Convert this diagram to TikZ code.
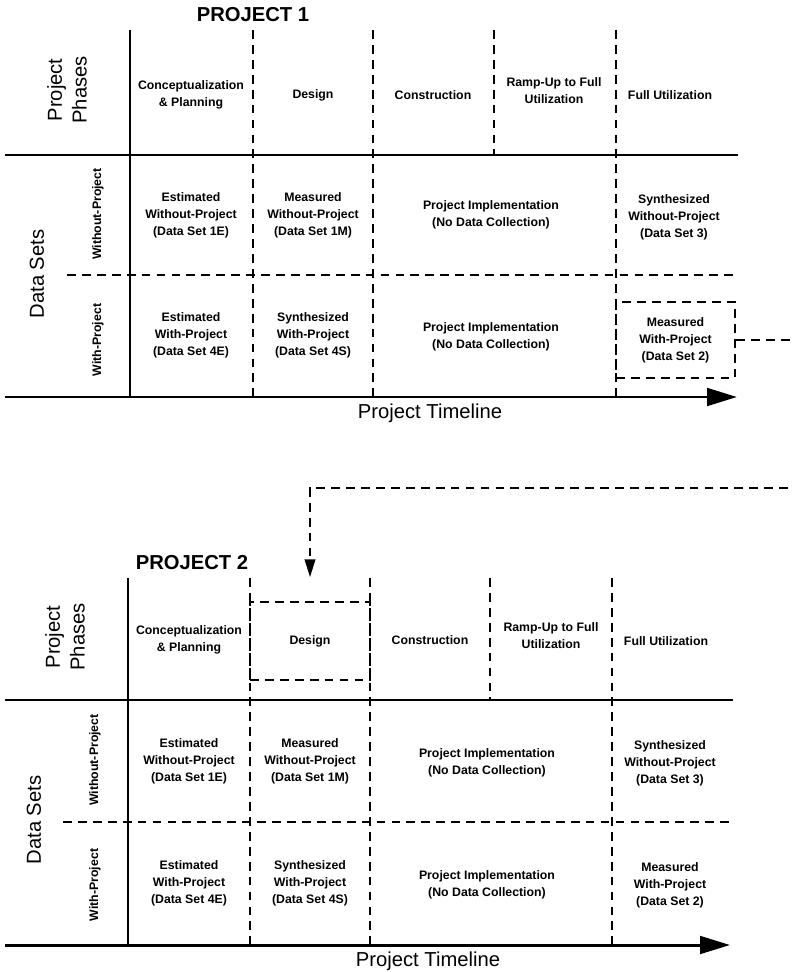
\documentclass[tikz,border=0pt]{standalone}
\usepackage{fontspec}
\setmainfont{Liberation Sans}
\usetikzlibrary{arrows.meta}
\tikzstyle{cell} = [align=center, inner sep=1pt, font=\fontsize{7}{9.6}\selectfont\bfseries]
\tikzstyle{rowlabel} = [rotate=90, inner sep=1pt, font=\fontsize{7}{9}\selectfont\bfseries]
\tikzstyle{biglabel} = [align=center, inner sep=1pt, font=\fontsize{11.5}{14}\selectfont]
\tikzstyle{title} = [inner sep=1pt, font=\fontsize{11.5}{14}\selectfont\bfseries]
\tikzstyle{frame} = [line width=1.7pt]
\tikzstyle{divider} = [line width=1.1pt, dash pattern=on 5pt off 3.5pt]
\tikzstyle{focus} = [cell, draw, line width=1.1pt, dash pattern=on 5pt off 3.5pt, inner sep=0pt]
\tikzstyle{timeline} = [line width=1.7pt, -{Triangle[length=17pt,width=10pt]}]
\tikzstyle{feedback} = [line width=1.1pt, dash pattern=on 5pt off 3.5pt, -{Triangle[length=10pt,width=6pt]}]

\begin{document}
\begin{tikzpicture}[x=0.02cm, y=-0.02cm]
	\clip (0,0) rectangle (791,972);
	\fill[white] (0,0) rectangle (791,972);

	% project 1
	\node (title1) [title] at (253,15) {PROJECT 1};
	\node (phases1) [biglabel, rotate=90] at (67,90) {Project\\Phases};
	\node (sets1) [biglabel, rotate=90] at (37,274) {Data Sets};
	\node (wo1) [rowlabel] at (98,214) {Without-Project};
	\node (wi1) [rowlabel] at (98,340) {With-Project};
	\node (conc1) [cell] at (191,95) {Conceptualization\\\& Planning};
	\node (design1) [cell] at (313,95) {Design};
	\node (constr1) [cell] at (433,95) {Construction};
	\node (ramp1) [cell] at (554,91) {Ramp-Up to Full\\Utilization};
	\node (full1) [cell] at (670,95) {Full Utilization};
	\node (estwo1) [cell] at (191,215) {Estimated\\Without-Project\\(Data Set 1E)};
	\node (meswo1) [cell] at (313,215) {Measured\\Without-Project\\(Data Set 1M)};
	\node (implwo1) [cell] at (491,215) {Project Implementation\\(No Data Collection)};
	\node (synwo1) [cell] at (674,217) {Synthesized\\Without-Project\\(Data Set 3)};
	\node (estw1) [cell] at (191,335) {Estimated\\With-Project\\(Data Set 4E)};
	\node (synw1) [cell] at (313,335) {Synthesized\\With-Project\\(Data Set 4S)};
	\node (implw1) [cell] at (491,337) {Project Implementation\\(No Data Collection)};
	\node (mesw1) [focus, minimum width=2.38cm, minimum height=1.52cm] at (675.5,340) {Measured\\With-Project\\(Data Set 2)};
	\node (time1) [biglabel] at (430,413) {Project Timeline};
	\draw [frame] (130,30) -- (130,397);
	\draw [divider] (253,30) -- (253,397);
	\draw [divider] (373,30) -- (373,397);
	\draw [divider] (494,30) -- (494,155);
	\draw [divider] (616,30) -- (616,397);
	\draw [frame] (5,155) -- (738,155);
	\draw [divider] (67,275) -- (735,275);
	\draw [timeline] (5,397) -- (737,397);

	% project 2
	\node (title2) [title] at (192,563) {PROJECT 2};
	\node (phases2) [biglabel, rotate=90] at (65,637) {Project\\Phases};
	\node (sets2) [biglabel, rotate=90] at (34,820) {Data Sets};
	\node (wo2) [rowlabel] at (95,760) {Without-Project};
	\node (wi2) [rowlabel] at (95,885) {With-Project};
	\node (conc2) [cell] at (189,640) {Conceptualization\\\& Planning};
	\node (design2) [focus, minimum width=2.4cm, minimum height=1.56cm] at (310,641) {Design};
	\node (constr2) [cell] at (430,640) {Construction};
	\node (ramp2) [cell] at (551,636) {Ramp-Up to Full\\Utilization};
	\node (full2) [cell] at (666,641) {Full Utilization};
	\node (estwo2) [cell] at (189,761) {Estimated\\Without-Project\\(Data Set 1E)};
	\node (meswo2) [cell] at (310,761) {Measured\\Without-Project\\(Data Set 1M)};
	\node (implwo2) [cell] at (487,763) {Project Implementation\\(No Data Collection)};
	\node (synwo2) [cell] at (670,763) {Synthesized\\Without-Project\\(Data Set 3)};
	\node (estw2) [cell] at (189,883) {Estimated\\With-Project\\(Data Set 4E)};
	\node (synw2) [cell] at (310,883) {Synthesized\\With-Project\\(Data Set 4S)};
	\node (implw2) [cell] at (487,885) {Project Implementation\\(No Data Collection)};
	\node (mesw2) [cell] at (670,885) {Measured\\With-Project\\(Data Set 2)};
	\node (time2) [biglabel] at (428,961) {Project Timeline};
	\draw [frame] (128,578) -- (128,945);
	\draw [divider] (250,578) -- (250,945);
	\draw [divider] (370,578) -- (370,945);
	\draw [divider] (490,578) -- (490,700);
	\draw [divider] (612,578) -- (612,945);
	\draw [frame] (5,700) -- (733,700);
	\draw [divider] (63,822) -- (733,822);
	\draw [timeline] (5,945) -- (730,945);

	% data set 2 feeds the next design
	\coordinate (loopR) at (800,488);
	\draw [feedback, shorten >=0.48cm] (mesw1.east) -| (loopR) -| (design2.north);
\end{tikzpicture}
\end{document}
